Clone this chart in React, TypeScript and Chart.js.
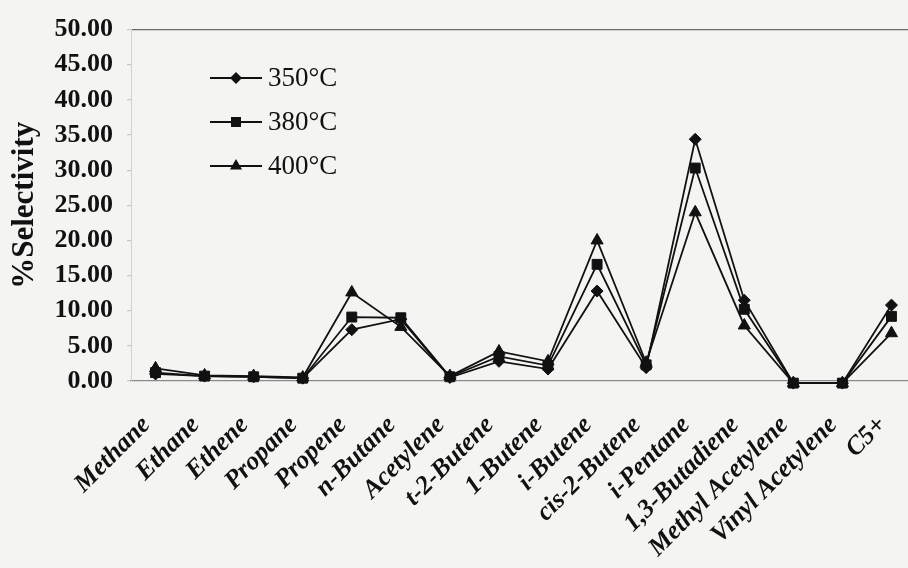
import React, { useEffect, useRef } from "react";
import { Chart, registerables } from "chart.js";

Chart.register(...registerables);

const categories = [
  "Methane", "Ethane", "Ethene", "Propane", "Propene", "n-Butane", "Acetylene",
  "t-2-Butene", "1-Butene", "i-Butene", "cis-2-Butene", "i-Pentane",
  "1,3-Butadiene", "Methyl Acetylene", "Vinyl Acetylene", "C5+",
];

const seriesLabels = ["350°C", "380°C", "400°C"];

const values350 = [1.0, 0.7, 0.6, 0.4, 7.3, 8.8, 0.5, 2.8, 1.7, 12.8, 1.9, 34.4, 11.5, -0.3, -0.3, 10.8];
const values380 = [1.2, 0.7, 0.6, 0.4, 9.1, 9.0, 0.6, 3.5, 2.2, 16.6, 2.3, 30.3, 10.2, -0.3, -0.3, 9.2];
const values400 = [1.8, 0.8, 0.7, 0.5, 12.6, 7.7, 0.7, 4.2, 2.8, 20.0, 2.6, 24.0, 7.9, -0.3, -0.3, 6.8];

const yTicks = [0, 5, 10, 15, 20, 25, 30, 35, 40, 45, 50];

const SERIF = "'Liberation Serif', 'Times New Roman', serif";

const legendPlugin = {
  id: "customLegend",
  afterDraw(chart: any) {
    const ctx = chart.ctx;
    const styles = ["rectRot", "rect", "triangle"];
    const rows = [78, 122, 166];
    ctx.save();
    for (let i = 0; i < 3; i++) {
      const y = rows[i];
      const cx = 236;
      ctx.strokeStyle = "#111";
      ctx.fillStyle = "#111";
      ctx.lineWidth = 1.8;
      ctx.beginPath();
      ctx.moveTo(210, y);
      ctx.lineTo(262, y);
      ctx.stroke();
      ctx.beginPath();
      if (styles[i] === "rectRot") {
        const r = 6;
        ctx.moveTo(cx, y - r);
        ctx.lineTo(cx + r, y);
        ctx.lineTo(cx, y + r);
        ctx.lineTo(cx - r, y);
        ctx.closePath();
      } else if (styles[i] === "rect") {
        const s = 5;
        ctx.rect(cx - s, y - s, 2 * s, 2 * s);
      } else {
        const r = 7;
        ctx.moveTo(cx, y - r);
        ctx.lineTo(cx + r * Math.sin((2 * Math.PI) / 3), y - r * Math.cos((2 * Math.PI) / 3));
        ctx.lineTo(cx + r * Math.sin((4 * Math.PI) / 3), y - r * Math.cos((4 * Math.PI) / 3));
        ctx.closePath();
      }
      ctx.fill();
      ctx.font = `27px ${SERIF}`;
      ctx.textAlign = "left";
      ctx.textBaseline = "middle";
      ctx.fillText(seriesLabels[i], 268, y + 1);
    }
    ctx.restore();
  },
};

export default function App() {
  const ref = useRef<HTMLCanvasElement>(null);

  useEffect(() => {
    if (!ref.current) return;
    const mk = (label: string, data: number[], style: string, radius: number) => ({
      label,
      data,
      borderColor: "#111",
      backgroundColor: "#111",
      borderWidth: 1.8,
      pointStyle: style,
      pointRadius: radius,
      pointBorderWidth: 1,
      pointBackgroundColor: "#111",
      pointBorderColor: "#111",
      tension: 0,
      clip: false,
    });
    const chart = new Chart(ref.current, {
      type: "line",
      data: {
        labels: categories,
        datasets: [
          mk(seriesLabels[2], values400, "triangle", 7),
          mk(seriesLabels[1], values380, "rect", 7),
          mk(seriesLabels[0], values350, "rectRot", 6),
        ],
      },
      plugins: [legendPlugin],
      options: {
        responsive: false,
        animation: false,
        layout: { padding: { top: 23, left: 0, right: 4, bottom: 0 } },
        plugins: { legend: { display: false }, tooltip: { enabled: false } },
        scales: {
          x: {
            offset: true,
            grid: { display: false, drawTicks: false },
            border: { display: true, color: "#8a8a8a", width: 1.2 },
            ticks: {
              autoSkip: false,
              maxRotation: 45,
              minRotation: 45,
              padding: 29,
              labelOffset: -9,
              color: "#111",
              font: { family: SERIF, size: 26, weight: "bold", style: "italic" },
            },
            afterFit: (s: any) => {
              s.height = 187;
              s.paddingLeft = 0;
              s.paddingRight = 0;
            },
          },
          y: {
            min: 0,
            max: 50,
            afterBuildTicks: (s: any) => {
              s.ticks = yTicks.map((v) => ({ value: v }));
            },
            grid: {
              drawOnChartArea: true,
              color: (c: any) => (c.tick && c.tick.value === 50 ? "#6a6a6a" : "rgba(0,0,0,0)"),
              tickColor: "#c8c8c8",
              tickLength: 4,
              lineWidth: 1.2,
            },
            border: { display: true, color: "#d2d2d2", width: 1 },
            ticks: {
              padding: 14,
              color: "#111",
              font: { family: SERIF, size: 26, weight: "bold" },
              callback: (v: any) => Number(v).toFixed(2),
            },
            title: {
              display: true,
              text: "%Selectivity",
              color: "#111",
              padding: { top: 6, bottom: 0 },
              font: { family: SERIF, size: 31, weight: "bold" },
            },
            afterFit: (s: any) => {
              s.width = 131;
            },
          },
        },
      },
    } as any);
    return () => chart.destroy();
  }, []);

  return (
    <div
      style={{
        position: "fixed",
        left: 0,
        top: 0,
        width: 908,
        height: 568,
        overflow: "hidden",
        background: "#f4f4f2",
      }}
    >
      <div style={{ position: "absolute", left: 0, top: 0, width: 924, height: 568 }}>
        <canvas ref={ref} width={924} height={568} style={{ display: "block" }} />
      </div>
    </div>
  );
}
